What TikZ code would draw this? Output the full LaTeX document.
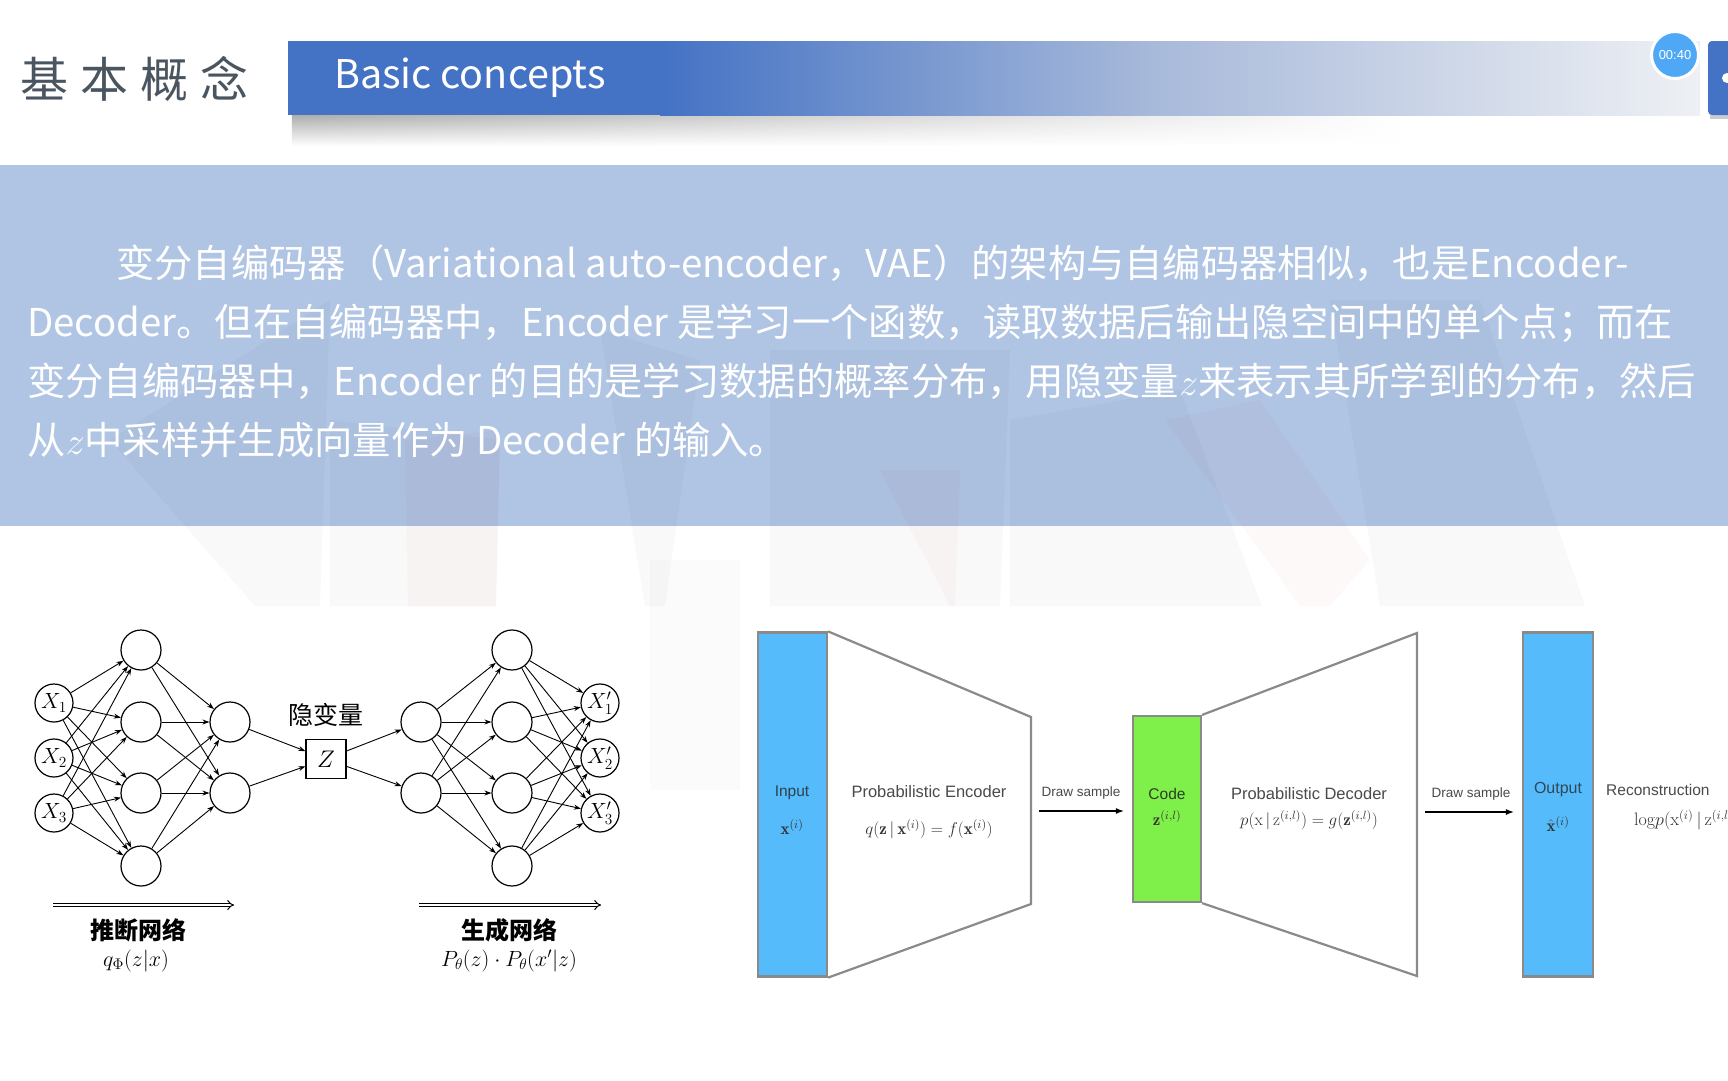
\documentclass[tikz,border=0pt]{standalone}
\usepackage{fix-cm}
\usepackage{amsmath}
\usepackage{xcolor}
\usepackage{fontspec}
\usepackage{tikz}
\usetikzlibrary{arrows.meta,fadings}
\newfontfamily\cjk{Noto Sans CJK SC}
\newfontfamily\cjkspaced[LetterSpace=25]{Noto Sans CJK SC}
\newfontfamily\hel{Liberation Sans}
\definecolor{banner}{HTML}{4472C4}
\definecolor{bannermid}{HTML}{A7B9DA}
\definecolor{bannerend}{HTML}{EEF0F4}
\definecolor{panel}{HTML}{B0C4E4}
\definecolor{titlegray}{HTML}{4A5560}
\definecolor{timerblue}{HTML}{4FA8F5}
\definecolor{vaeblue}{HTML}{55BBFB}
\definecolor{vaegreen}{HTML}{7FF04A}
\definecolor{vaeline}{HTML}{8A8A8A}
\definecolor{vaetext}{HTML}{4A4A4A}
\definecolor{mathtext}{HTML}{333333}
\tikzfading[name=fade to right, left color=transparent!0, right color=transparent!100]
\tikzstyle{neuron}=[draw=black, shape=circle, line width=1.2pt, minimum size=40pt, inner sep=0pt, font=\fontsize{22}{22}\selectfont]
\tikzstyle{io neuron}=[neuron, minimum size=38pt]
\tikzstyle{net edge}=[-{Stealth[length=7pt,width=5pt]}, line width=0.9pt]
\tikzstyle{flow arrow}=[double, double distance=2.4pt, line width=1pt, -{Implies}]
\tikzstyle{net label}=[font=\cjk\bfseries\fontsize{24}{24}\selectfont]
\tikzstyle{net formula}=[font=\fontsize{22}{22}\selectfont]
\tikzstyle{block}=[draw=vaeline, line width=2.2pt, inner sep=0pt]
\tikzstyle{funnel}=[draw=vaeline, line width=2.2pt, line join=miter]
\tikzstyle{block text}=[inner sep=1pt, font=\hel\fontsize{15.5}{15.5}\selectfont]
\tikzstyle{stage text}=[text=vaetext, font=\hel\fontsize{16.5}{16.5}\selectfont]
\tikzstyle{stage formula}=[text=mathtext, inner sep=1pt, font=\fontsize{17}{17}\selectfont]
\tikzstyle{sample arrow}=[-{Latex[length=8pt,width=6pt]}, line width=1.2pt, shorten <=8pt, shorten >=8pt]
\tikzstyle{para}=[anchor=base west, text=white, inner sep=0pt, font=\cjk\fontsize{38.3}{46}\selectfont]
\tikzstyle{wm gray}=[fill=black, opacity=0.025]
\tikzstyle{wm pink}=[fill=red!70!black, opacity=0.025]
\begin{document}
\begin{tikzpicture}[x=1pt, y=-1pt]
  \useasboundingbox (0,0) rectangle (1728,1080);
  \fill[white] (0,0) rectangle (1728,1080);

  % header
  \node[anchor=west, text=titlegray, inner sep=0pt, font=\cjkspaced\fontsize{48}{48}\selectfont] (title) at (20,79) {基本概念};
  \shade[top color=black!35, bottom color=white, path fading=fade to right] (292,112) rectangle (1400,146);
  \fill[banner] (288,41) rectangle (700,115);
  \shade[left color=banner, right color=bannermid] (660,41) rectangle (1150,115);
  \shade[left color=bannermid, right color=bannerend] (1149,41) rectangle (1700,115);
  \node[anchor=west, text=white, inner sep=0pt, font=\cjk\fontsize{39.5}{40}\selectfont] (subtitle) at (334,78) {Basic concepts};
  \fill[black!20] (1710,45) rectangle (1760,119);
  \fill[banner, rounded corners=4pt] (1708,41) rectangle (1760,115);
  \fill[white] (1727,78) circle (5);
  \node[circle, fill=timerblue, draw=white, line width=3pt, minimum size=47pt, inner sep=0pt, text=white, font=\hel\fontsize{13}{13}\selectfont] (timer) at (1675,55) {00:40};

  % text panel
  \fill[panel] (0,165) rectangle (1728,526);
  \fill[wm gray] (110,440) -- (330,300) -- (320,606) -- (255,606) -- cycle;
  \fill[wm gray] (330,420) -- (500,440) -- (496,606) -- (330,606) -- cycle;
  \fill[wm pink] (405,440) -- (500,430) -- (496,606) -- (408,606) -- cycle;
  \fill[wm gray] (600,330) -- (700,360) -- (665,606) -- (645,606) -- cycle;
  \fill[wm gray, opacity=0.015] (650,560) -- (740,560) -- (740,790) -- (650,790) -- cycle;
  \fill[wm gray] (770,350) -- (1010,350) -- (1000,606) -- (770,606) -- cycle;
  \fill[wm pink] (880,470) -- (960,470) -- (955,606) -- (950,606) -- cycle;
  \fill[wm gray] (1010,420) -- (1180,390) -- (1262,606) -- (1010,606) -- cycle;
  \fill[wm pink] (1165,420) -- (1260,400) -- (1370,560) -- (1330,606) -- (1300,606) -- cycle;
  \fill[wm gray] (1330,300) -- (1480,300) -- (1585,606) -- (1380,606) -- cycle;
  \node[para] (line1) at (116,277) {变分自编码器（Variational auto-encoder，VAE）的架构与自编码器相似，也是Encoder-};
  \node[para] (line2) at (27,336) {Decoder。但在自编码器中，Encoder 是学习一个函数，读取数据后输出隐空间中的单个点；而在};
  \node[para] (line3) at (27,395) {变分自编码器中，Encoder 的目的是学习数据的概率分布，用隐变量$z$来表示其所学到的分布，然后};
  \node[para] (line4) at (27,454) {从$z$中采样并生成向量作为 Decoder 的输入。};

  % left: inference / generative network
  \foreach \i/\y in {1/703,2/758,3/813}
    \node[io neuron] (in\i) at (54,\y) {$X_\i$};
  \foreach \i/\y in {1/650,2/722,3/793,4/866}
    \node[neuron] (enc\i) at (141,\y) {};
  \foreach \i/\y in {1/722,2/793}
    \node[neuron] (lat\i) at (230,\y) {};
  \node[draw=black, line width=1.2pt, minimum width=40pt, minimum height=39pt, inner sep=0pt, font=\fontsize{24}{24}\selectfont] (z) at (326,759) {$Z$};
  \node[font=\cjk\fontsize{25}{25}\selectfont] (zlabel) at (326,715) {隐变量};
  \foreach \i/\y in {1/722,2/793}
    \node[neuron] (gen\i) at (421,\y) {};
  \foreach \i/\y in {1/650,2/722,3/793,4/866}
    \node[neuron] (dec\i) at (512,\y) {};
  \foreach \i/\y in {1/703,2/758,3/813}
    \node[io neuron] (out\i) at (600,\y) {$X'_\i$};
  \foreach \i in {1,2,3}
    \foreach \j in {1,...,4}
      \draw[net edge] (in\i) -- (enc\j);
  \foreach \i in {1,...,4}
    \foreach \j in {1,2}
      \draw[net edge] (enc\i) -- (lat\j);
  \foreach \j in {1,2} {
    \draw[net edge] (lat\j) -- (z);
    \draw[net edge] (z) -- (gen\j);
  }
  \foreach \i in {1,2}
    \foreach \j in {1,...,4}
      \draw[net edge] (gen\i) -- (dec\j);
  \foreach \i in {1,...,4}
    \foreach \j in {1,2,3}
      \draw[net edge] (dec\i) -- (out\j);
  \coordinate (inferL) at (53,905);
  \coordinate (inferR) at (234,905);
  \coordinate (genL) at (419,905);
  \coordinate (genR) at (601,905);
  \draw[flow arrow] (inferL) -- (inferR);
  \draw[flow arrow] (genL) -- (genR);
  \node[net label] (infer) at (138,930) {推断网络};
  \node[net formula] (inferf) at (136,961) {$q_\Phi(z|x)$};
  \node[net label] (genlabel) at (509,930) {生成网络};
  \node[net formula] (genf) at (509,961) {$P_\theta(z)\cdot P_\theta(x'|z)$};

  % right: VAE blocks
  \node[block, fill=vaeblue, minimum width=69pt, minimum height=344pt] (vin) at (792.5,804.5) {};
  \node[block, fill=vaegreen, minimum width=68pt, minimum height=186pt] (vcode) at (1167,809) {};
  \node[block, fill=vaeblue, minimum width=70pt, minimum height=344pt] (vout) at (1558,804.5) {};
  \coordinate (encNE) at (1031,717);
  \coordinate (encSE) at (1031,904);
  \coordinate (decNE) at (1417,633);
  \coordinate (decSE) at (1417,976);
  \draw[funnel] (vin.north east) -- (encNE) -- (encSE) -- (vin.south east);
  \draw[funnel] (vcode.north east) -- (decNE) -- (decSE) -- (vcode.south east);
  \node[block text, text=vaetext!70!vaeblue!60!black] (inlabel) at (792,793) {Input};
  \node[stage formula] (inx) at (792,827) {$\mathbf{x}^{(i)}$};
  \node[stage text] (enclabel) at (929,792) {Probabilistic Encoder};
  \node[stage formula] (encf) at (929,829) {$q(\mathbf{z}\,|\,\mathbf{x}^{(i)})=f(\mathbf{x}^{(i)})$};
  \coordinate (encmid) at (1031,811);
  \draw[sample arrow] (encmid) -- (encmid -| vcode.west);
  \node[text=vaetext, font=\hel\fontsize{13.5}{13.5}\selectfont] (draw1) at (1081,793) {Draw sample};
  \node[block text, text=vaetext!70!vaegreen!50!black] (codelabel) at (1167,794) {Code};
  \node[stage formula] (codez) at (1167,818) {$\mathbf{z}^{(i,l)}$};
  \node[stage text] (declabel) at (1309,794) {Probabilistic Decoder};
  \node[stage formula] (decf) at (1309,820) {$p(\mathrm{x}\,|\,\mathrm{z}^{(i,l)})=g(\mathbf{z}^{(i,l)})$};
  \coordinate (decmid) at (1417,812);
  \draw[sample arrow] (decmid) -- (decmid -| vout.west);
  \node[text=vaetext, font=\hel\fontsize{13.5}{13.5}\selectfont] (draw2) at (1471,794) {Draw sample};
  \node[block text, text=vaetext!60!vaeblue!60!black, font=\hel\fontsize{16}{16}\selectfont] (outlabel) at (1558,790) {Output};
  \node[stage formula] (outx) at (1558,824) {$\hat{\mathbf{x}}^{(i)}$};
  \node[stage text, anchor=west, inner sep=0pt, font=\hel\fontsize{15.5}{16}\selectfont] (recon) at (1606,790) {Reconstruction};
  \node[stage formula, anchor=west, font=\fontsize{18}{18}\selectfont] (reconf) at (1633,820) {$\mathrm{log}p(\mathrm{x}^{(i)}\,|\,\mathrm{z}^{(i,l)})$};
\end{tikzpicture}
\end{document}
